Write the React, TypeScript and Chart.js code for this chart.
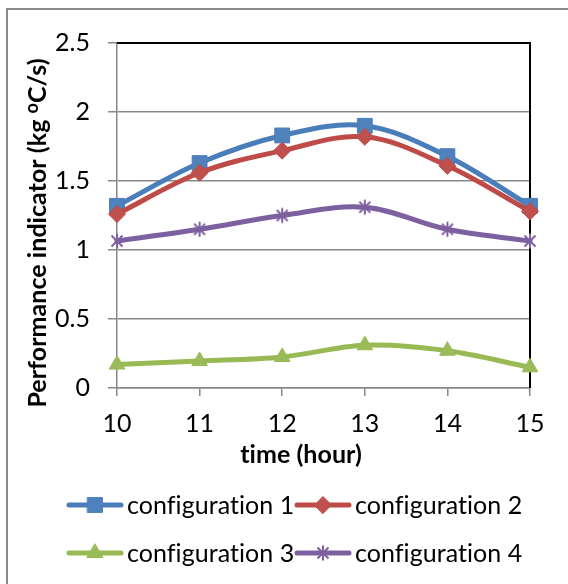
import React, { useEffect, useRef } from 'react';
import { Chart, registerables } from 'chart.js';
import { drawPoint } from 'chart.js/helpers';

Chart.register(...registerables);

// ---- data ----
const hours = ['10', '11', '12', '13', '14', '15'];
const config1 = [1.32, 1.63, 1.83, 1.9, 1.68, 1.32];
const config2 = [1.26, 1.56, 1.72, 1.82, 1.61, 1.28];
const config3 = [0.17, 0.195, 0.225, 0.31, 0.27, 0.15];
const config4 = [1.065, 1.15, 1.25, 1.31, 1.15, 1.065];
const seriesNames = ['configuration 1', 'configuration 2', 'configuration 3', 'configuration 4'];
const yTickLabels = ['0', '0.5', '1', '1.5', '2', '2.5'];
const xTitle = 'time (hour)';
const yTitleMain = 'Performance indicator (kg ';
const yTitleSup = 'o';
const yTitleEnd = 'C/s)';

// ---- style ----
const FONT = 'Lato, "Open Sans", sans-serif';
const FS = 25;
const GRID = '#888888';
const lineColors = ['#4A7EBB', '#BE4B48', '#98B954', '#7D60A0'];
const fillColors = ['#4F81BD', '#C0504D', '#9BBB59', '#8064A2'];

function noLigatures(ctx: any) {
  try {
    ctx.textRendering = 'optimizeSpeed';
    ctx.letterSpacing = '0.05px';
  } catch (e) {
    /* ignore */
  }
}

function makeStar(color: string) {
  const c = document.createElement('canvas');
  c.width = 18;
  c.height = 18;
  const g = c.getContext('2d')!;
  g.strokeStyle = color;
  g.lineWidth = 2;
  g.beginPath();
  g.moveTo(9, 1.5);
  g.lineTo(9, 16.5);
  g.moveTo(3.5, 3.5);
  g.lineTo(14.5, 14.5);
  g.moveTo(14.5, 3.5);
  g.lineTo(3.5, 14.5);
  g.stroke();
  return c;
}

const framePlugin = {
  id: 'frame',
  beforeDraw(chart: any) {
    const ctx = chart.ctx;
    ctx.save();
    ctx.fillStyle = '#ffffff';
    ctx.fillRect(0, 0, chart.width, chart.height);
    ctx.strokeStyle = '#8a8a8a';
    ctx.lineWidth = 2;
    ctx.beginPath();
    ctx.moveTo(7, chart.height);
    ctx.lineTo(7, 9);
    ctx.lineTo(chart.width, 9);
    ctx.stroke();
    ctx.restore();
  },
  beforeDatasetsDraw(chart: any) {
    const { ctx, chartArea } = chart;
    ctx.save();
    ctx.strokeStyle = '#000000';
    ctx.lineWidth = 2;
    ctx.beginPath();
    ctx.moveTo(chartArea.left, chartArea.top);
    ctx.lineTo(chartArea.right, chartArea.top);
    ctx.lineTo(chartArea.right, chartArea.bottom);
    ctx.stroke();
    ctx.restore();
  },
};

const titlesPlugin = {
  id: 'titles',
  afterDraw(chart: any) {
    const ctx = chart.ctx;
    ctx.save();
    noLigatures(ctx);
    ctx.fillStyle = '#000';
    ctx.textBaseline = 'middle';
    // x title
    ctx.font = `bold ${FS}px ${FONT}`;
    ctx.textAlign = 'center';
    ctx.fillText(xTitle, 301, 455);
    // y title (rotated, with superscript)
    ctx.translate(38, 233);
    ctx.rotate(-Math.PI / 2);
    ctx.textAlign = 'left';
    const supFont = `bold ${Math.round(FS * 0.7)}px ${FONT}`;
    const mainFont = `bold ${FS}px ${FONT}`;
    ctx.font = mainFont;
    const w1 = ctx.measureText(yTitleMain).width;
    const w3 = ctx.measureText(yTitleEnd).width;
    ctx.font = supFont;
    const w2 = ctx.measureText(yTitleSup).width;
    let x = -(w1 + w2 + w3) / 2;
    ctx.font = mainFont;
    ctx.fillText(yTitleMain, x, 0);
    x += w1;
    ctx.font = supFont;
    ctx.fillText(yTitleSup, x, -6);
    x += w2;
    ctx.font = mainFont;
    ctx.fillText(yTitleEnd, x, 0);
    ctx.restore();
  },
};

const legendPlugin = {
  id: 'customLegend',
  afterDraw(chart: any) {
    const ctx = chart.ctx;
    ctx.save();
    noLigatures(ctx);
    chart.data.datasets.forEach((ds: any, i: number) => {
      const col = i % 2;
      const row = Math.floor(i / 2);
      const x0 = col === 0 ? 67 : 295;
      const y = row === 0 ? 505 : 553;
      ctx.strokeStyle = ds.borderColor;
      ctx.lineWidth = 5;
      ctx.lineCap = 'round';
      ctx.beginPath();
      ctx.moveTo(x0 + 2, y);
      ctx.lineTo(x0 + 54, y);
      ctx.stroke();
      ctx.fillStyle = ds.pointBackgroundColor;
      ctx.strokeStyle = ds.pointBorderColor;
      ctx.lineWidth = 1;
      drawPoint(ctx, { pointStyle: ds.pointStyle, radius: ds.pointRadius, borderWidth: 1, rotation: 0 }, x0 + 28, y);
      ctx.fillStyle = '#000';
      ctx.font = `${FS}px ${FONT}`;
      ctx.textAlign = 'left';
      ctx.textBaseline = 'middle';
      ctx.fillText(seriesNames[i], x0 + 60, y + 1);
    });
    ctx.restore();
  },
};

export default function App() {
  const ref = useRef<HTMLCanvasElement | null>(null);
  useEffect(() => {
    if (!ref.current) return;
    const star = makeStar(lineColors[3]);
    const series = [config1, config2, config3, config4];
    const styles: any[] = ['rect', 'rectRot', 'triangle', star];
    const radii = [10.5, 8.5, 9, 9];
    const chart = new Chart(ref.current, {
      type: 'line',
      data: {
        labels: hours,
        datasets: series.map((d, i) => ({
          label: seriesNames[i],
          data: d,
          borderColor: lineColors[i],
          backgroundColor: fillColors[i],
          borderWidth: 5,
          borderCapStyle: 'round',
          borderJoinStyle: 'round',
          tension: 0.35,
          pointStyle: styles[i],
          pointRadius: radii[i],
          pointHoverRadius: radii[i],
          pointBackgroundColor: fillColors[i],
          pointBorderColor: lineColors[i],
          pointBorderWidth: 1,
          clip: false,
          order: 3 - i,
        })),
      } as any,
      options: {
        responsive: false,
        animation: false,
        devicePixelRatio: 1,
        layout: { padding: { top: 43, right: 38, left: 0, bottom: 0 } },
        plugins: {
          legend: { display: false },
          tooltip: { enabled: false },
        },
        scales: {
          x: {
            type: 'category',
            offset: false,
            grid: {
              display: true,
              drawOnChartArea: false,
              drawTicks: true,
              tickLength: 8,
              color: GRID,
              lineWidth: 1.5,
            },
            border: { color: GRID, width: 1.5 },
            ticks: {
              font: { family: FONT, size: FS },
              color: '#000',
              padding: 13,
              maxRotation: 0,
              autoSkip: false,
            },
            afterFit(s: any) {
              s.height = 196;
            },
          },
          y: {
            min: 0,
            max: 2.5,
            ticks: {
              stepSize: 0.5,
              font: { family: FONT, size: FS },
              color: '#000',
              padding: 18,
              callback: (_v: any, idx: number) => yTickLabels[idx],
            },
            grid: { color: GRID, lineWidth: 1.5, tickLength: 9 },
            border: { color: GRID, width: 1.5 },
            afterFit(s: any) {
              s.width = 117;
            },
          },
        },
      } as any,
      plugins: [framePlugin, titlesPlugin, legendPlugin],
    });
    return () => chart.destroy();
  }, []);
  return (
    <div style={{ position: 'absolute', left: 0, top: 0, width: 568, height: 584 }}>
      <canvas ref={ref} width={568} height={584} style={{ width: 568, height: 584, display: 'block' }} />
    </div>
  );
}
